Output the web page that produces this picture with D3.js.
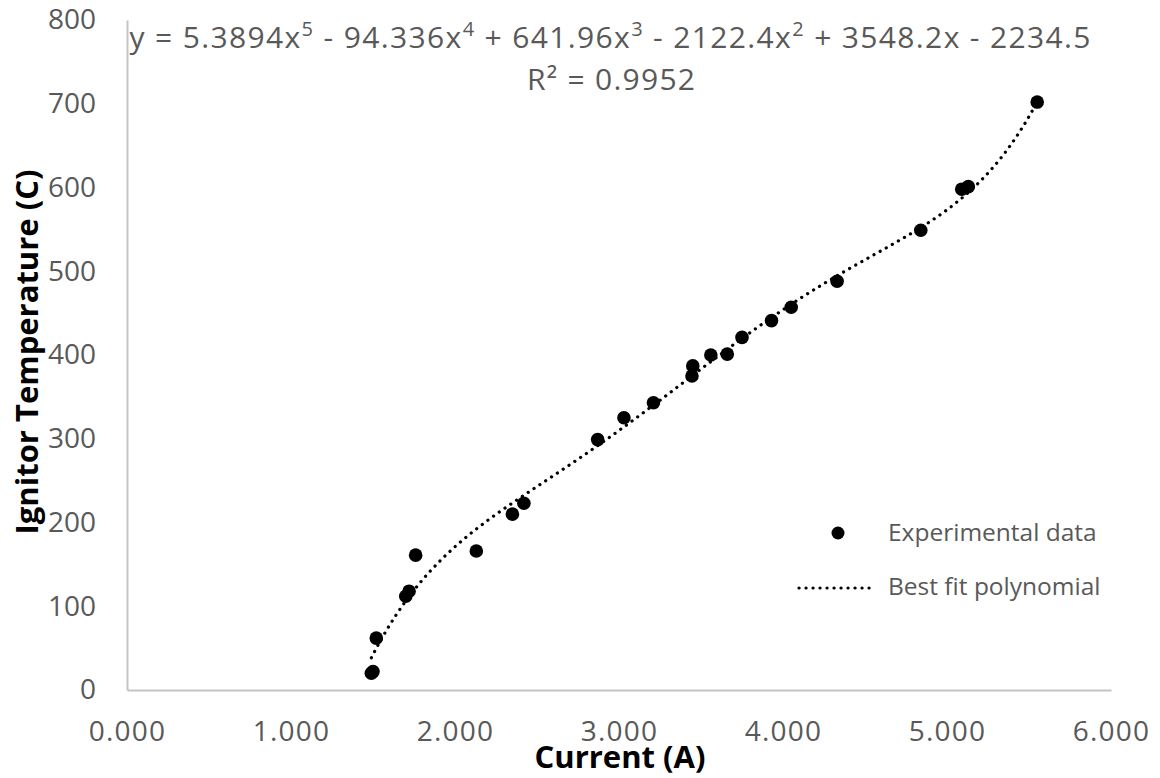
<!DOCTYPE html>
<html>
<head>
<meta charset="utf-8">
<script src="https://cdn.jsdelivr.net/npm/d3@7"></script>
<style>
  body { margin: 0; background: #fff; }
  svg { display: block; }
</style>
</head>
<body>
<div id="chart"></div>
<script>
var width = 1160,
    height = 778;

// experimental points
var current = [1.49, 1.50, 1.52, 1.70, 1.72, 1.76, 2.13, 2.35, 2.42, 2.87, 3.03, 3.21,
               3.445, 3.45, 3.56, 3.66, 3.75, 3.93, 4.05, 4.33, 4.84, 5.09, 5.13, 5.55];
var temperature = [20, 22, 62, 112, 118, 161, 166, 210, 223, 299, 325, 343,
                   375, 387, 400, 401, 421, 441, 457, 488, 549, 598, 601, 702];

// trendline coefficients as printed on the chart (x^5 ... x^0)
var coeffs = [5.3894, -94.336, 641.96, -2122.4, 3548.2, -2234.5];
var rSquared = "0.9952";

var xTicks = [0, 1, 2, 3, 4, 5, 6];
var yTicks = [0, 100, 200, 300, 400, 500, 600, 700, 800];

var x = d3.scaleLinear().domain([0, 6]).range([127, 1111]);
var y = d3.scaleLinear().domain([0, 800]).range([690, 20]);

var svg = d3.select("#chart").append("svg")
  .attr("width", width)
  .attr("height", height)
  .style("font-family", "'Open Sans', sans-serif");

svg.append("rect").attr("width", width).attr("height", height).attr("fill", "#fff");

// axes
var xAxis = svg.append("g")
  .attr("transform", "translate(0," + y(0) + ")")
  .call(d3.axisBottom(x).tickValues(xTicks).tickFormat(d3.format(".3f"))
    .tickSize(0).tickPadding(31));

var yAxis = svg.append("g")
  .attr("transform", "translate(" + x(0) + ",0)")
  .call(d3.axisLeft(y).tickValues(yTicks).tickSize(0).tickPadding(31));

[xAxis, yAxis].forEach(function(g) {
  g.select(".domain").attr("stroke", "#c4c4c4").attr("stroke-width", 2);
  g.selectAll("text")
    .attr("fill", "#595959")
    .style("font-size", "28px")
    .style("font-family", "'Open Sans', sans-serif");
});
xAxis.selectAll("text").style("letter-spacing", "1.2px");

// trendline
var fit = function(v) {
  return coeffs.reduce(function(acc, c) { return acc * v + c; }, 0);
};
var xs = d3.range(d3.min(current), d3.max(current) + 0.0001, 0.01);

svg.append("path")
  .datum(xs)
  .attr("d", d3.line()
    .x(function(d) { return x(d); })
    .y(function(d) { return y(fit(d)); }))
  .attr("fill", "none")
  .attr("stroke", "#000")
  .attr("stroke-width", 3.2)
  .attr("stroke-linecap", "round")
  .attr("stroke-dasharray", "0.1 6.9");

// points
svg.selectAll("circle.pt")
  .data(current)
  .enter()
  .append("circle")
  .attr("class", "pt")
  .attr("cx", function(d) { return x(d); })
  .attr("cy", function(d, i) { return y(temperature[i]); })
  .attr("r", 6.8)
  .attr("fill", "#000");

// equation
var eq = svg.append("text")
  .attr("x", 610)
  .attr("y", 48)
  .attr("text-anchor", "middle")
  .attr("fill", "#595959")
  .attr("textLength", 961)
  .attr("lengthAdjust", "spacing")
  .style("font-size", "30px");

var parts = [
  ["y = 5.3894x", "5"], [" - 94.336x", "4"], [" + 641.96x", "3"],
  [" - 2122.4x", "2"], [" + 3548.2x - 2234.5", null]
];
var raised = false;
parts.forEach(function(p) {
  eq.append("tspan").attr("dy", raised ? 12 : 0).text(p[0]);
  raised = false;
  if (p[1]) {
    eq.append("tspan").attr("dy", -12).style("font-size", "20px").text(p[1]);
    raised = true;
  }
});

svg.append("text")
  .attr("x", 611)
  .attr("y", 90)
  .attr("text-anchor", "middle")
  .attr("fill", "#595959")
  .attr("textLength", 168)
  .attr("lengthAdjust", "spacing")
  .style("font-size", "30px")
  .text("R² = " + rSquared);

// axis titles
svg.append("text")
  .attr("x", 620)
  .attr("y", 768)
  .attr("text-anchor", "middle")
  .style("font-size", "31px")
  .style("font-weight", "bold")
  .attr("fill", "#000")
  .text("Current (A)");

svg.append("text")
  .attr("transform", "translate(38,352) rotate(-90)")
  .attr("text-anchor", "middle")
  .style("font-size", "31px")
  .style("font-weight", "bold")
  .attr("fill", "#000")
  .text("Ignitor Temperature (C)");

// legend
var legend = svg.append("g");
legend.append("circle").attr("cx", 838).attr("cy", 533).attr("r", 6.5).attr("fill", "#000");
legend.append("line")
  .attr("x1", 799).attr("x2", 876).attr("y1", 588).attr("y2", 588)
  .attr("stroke", "#000").attr("stroke-width", 3.2)
  .attr("stroke-linecap", "round").attr("stroke-dasharray", "0.1 6.9");
legend.selectAll("text")
  .data(["Experimental data", "Best fit polynomial"])
  .enter()
  .append("text")
  .attr("x", 888)
  .attr("y", function(d, i) { return 541 + i * 54; })
  .attr("fill", "#595959")
  .style("font-size", "24.5px")
  .text(function(d) { return d; });
</script>
</body>
</html>
